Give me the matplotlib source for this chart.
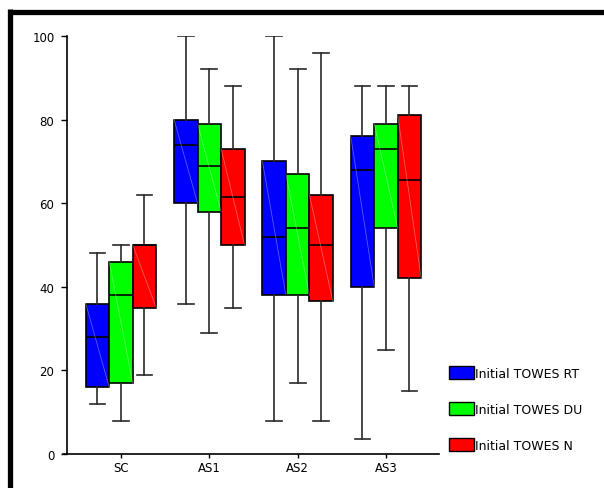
import matplotlib
matplotlib.use("Agg")
import matplotlib.pyplot as plt
from matplotlib.patches import Patch
from matplotlib.lines import Line2D

groups = ["SC", "AS1", "AS2", "AS3"]
series = ["Initial TOWES RT", "Initial TOWES DU", "Initial TOWES N"]
colors = ["#0000ff", "#00ff00", "#ff0000"]

# (whisker low, q1, median, q3, whisker high) per group
rt = [(12, 16, 28, 36, 48), (36, 60, 74, 80, 100), (8, 38, 52, 70, 100), (3.5, 40, 68, 76, 88)]
du = [(8, 17, 38, 46, 50), (29, 58, 69, 79, 92), (17, 38, 54, 67, 92), (25, 54, 73, 79, 88)]
nn = [(19, 35, 50, 50, 62), (35, 50, 61.5, 73, 88), (8, 36.5, 50, 62, 96), (15, 42, 65.5, 81, 88)]
all_stats = [rt, du, nn]

fig = plt.figure(figsize=(6.04, 4.89), dpi=100)
ax = fig.add_axes([67 / 604, 1 - 455 / 489, 372 / 604, 418 / 489])

width = 0.266
offsets = [-width, 0, width]
for vals, col, off in zip(all_stats, colors, offsets):
    stats = []
    for lo, q1, med, q3, hi in vals:
        stats.append(dict(whislo=lo, q1=q1, med=med, q3=q3, whishi=hi, fliers=[]))
    pos = [i + off for i in range(len(groups))]
    ax.bxp(stats, positions=pos, widths=width, patch_artist=True, showfliers=False,
           boxprops=dict(facecolor=col, edgecolor="black", linewidth=1.2),
           medianprops=dict(color="black", linewidth=1.2),
           whiskerprops=dict(color="#2a2a2a", linewidth=1.2),
           capprops=dict(color="#2a2a2a", linewidth=1.2),
           capwidths=0.18, manage_ticks=False, zorder=2)
    # faint diagonal across each box
    for p, (lo, q1, med, q3, hi) in zip(pos, vals):
        ax.plot([p - width / 2, p + width / 2], [q3, q1], color="white",
                alpha=0.35, linewidth=0.6, zorder=3)

ax.set_xlim(-0.611, 3.60)
ax.set_ylim(0, 100)
ax.set_xticks(range(len(groups)))
ax.set_xticklabels(groups)
ax.set_yticks([0, 20, 40, 60, 80, 100])
ax.tick_params(axis="both", labelsize=8.5, length=4, width=1, direction="out", pad=5)
ax.tick_params(axis="x", length=3, pad=2)
for s in ["top", "right"]:
    ax.spines[s].set_visible(False)
for s in ["left", "bottom"]:
    ax.spines[s].set_linewidth(1.2)
ax.spines["bottom"].set_bounds(-0.611 - 4 / 88.3, 3.60)
ax.spines["bottom"].set_clip_on(False)

handles = [Patch(facecolor=c, edgecolor="black", linewidth=1) for c in colors]
fig.legend(handles, series, loc="upper left", bbox_to_anchor=(449 / 604, 1 - 367 / 489),
           frameon=False, fontsize=9, handlelength=2.0, handleheight=1.22,
           handletextpad=0.1, labelspacing=1.8, borderaxespad=0, borderpad=0)

# heavy frame along the top and left edges
fig.add_artist(Line2D([9.5 / 604, 1], [1 - 12.5 / 489, 1 - 12.5 / 489],
                      color="black", linewidth=3.8, solid_capstyle="butt"))
fig.add_artist(Line2D([9.5 / 604, 9.5 / 604], [0, 1 - 10 / 489],
                      color="black", linewidth=3.8, solid_capstyle="butt"))

fig.savefig("out.png", dpi=100)
